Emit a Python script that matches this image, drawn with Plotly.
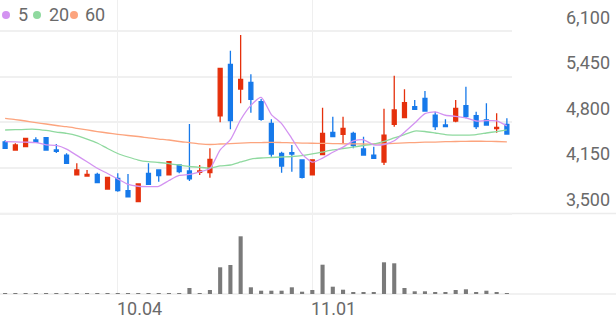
import plotly.graph_objects as go

dates = ["09.12", "09.13", "09.19", "09.20", "09.23", "09.24", "09.25", "09.26", "09.27", "09.30",
         "10.02", "10.04", "10.07", "10.08", "10.10", "10.11", "10.14", "10.15", "10.16", "10.17",
         "10.18", "10.21", "10.22", "10.23", "10.24", "10.25", "10.28", "10.29", "10.30", "10.31",
         "11.01", "11.04", "11.05", "11.06", "11.07", "11.08", "11.11", "11.12", "11.13", "11.14",
         "11.15", "11.18", "11.19", "11.20", "11.21", "11.22", "11.25", "11.26", "11.27", "11.28"]

open_ = [4520, 4405, 4452, 4547, 4580, 4405, 4333, 4049, 4034, 4058,
         3849, 4001, 3825, 3668, 4073, 4120, 4049, 4191, 4106, 4087,
         4081, 4893, 5626, 5274, 5369, 5093, 4785, 4358, 4366, 4262,
         4049, 4340, 4657, 4628, 4643, 4419, 4333, 4234, 4771, 4865,
         5022, 5141, 4903, 4761, 4818, 5036, 4893, 4832, 4708, 4771]
high = [4545, 4500, 4575, 4586, 4585, 4490, 4358, 4215, 4120, 4081,
        4020, 4073, 4063, 3925, 4215, 4125, 4240, 4195, 4775, 4191,
        4429, 5575, 5819, 6043, 5483, 5130, 4842, 4380, 4476, 4265,
        4270, 5007, 4879, 4879, 4665, 4594, 4452, 4992, 5462, 5270,
        5117, 5245, 4950, 4842, 5117, 5307, 4950, 5070, 4928, 4856]
low = [4420, 4400, 4445, 4510, 4400, 4362, 4210, 4045, 4030, 3935,
       3845, 3811, 3728, 3665, 3910, 3953, 4045, 4073, 3963, 4049,
       4010, 4799, 4700, 5070, 4936, 4820, 4309, 4081, 4096, 4000,
       4045, 4330, 4590, 4500, 4429, 4330, 4283, 4191, 4737, 4856,
       4980, 4955, 4690, 4735, 4799, 4856, 4704, 4751, 4651, 4630]
close = [4430, 4476, 4571, 4514, 4405, 4386, 4215, 4120, 4058, 3939,
         4016, 3825, 3739, 3920, 3916, 4039, 4238, 4096, 3992, 4106,
         4272, 5569, 4822, 5412, 5127, 4842, 4348, 4177, 4348, 4016,
         4265, 4643, 4594, 4714, 4466, 4333, 4286, 4618, 4975, 5079,
         4985, 4960, 4737, 4737, 4999, 4879, 4737, 4761, 4728, 4633]

ma5 = [4523, 4520, 4516, 4510, 4479, 4470, 4418, 4328, 4237, 4144,
       4070, 3992, 3915, 3888, 3883, 3888, 3970, 4042, 4056, 4094,
       4141, 4407, 4552, 4836, 5040, 5154, 4910, 4781, 4568, 4346,
       4231, 4290, 4373, 4446, 4536, 4550, 4479, 4483, 4536, 4658,
       4789, 4923, 4947, 4900, 4884, 4862, 4818, 4823, 4821, 4748]
ma20 = [4690, 4694, 4700, 4700, 4683, 4661, 4642, 4611, 4561, 4504,
        4426, 4355, 4305, 4262, 4238, 4227, 4212, 4191, 4170, 4158,
        4148, 4177, 4191, 4234, 4276, 4291, 4298, 4305, 4312, 4326,
        4348, 4376, 4405, 4426, 4447, 4469, 4490, 4526, 4576, 4625,
        4675, 4668, 4647, 4625, 4618, 4618, 4625, 4647, 4668, 4690]
ma60 = [4856, 4839, 4818, 4796, 4775, 4754, 4737, 4714, 4690, 4668,
        4647, 4628, 4611, 4597, 4578, 4561, 4547, 4526, 4511, 4493,
        4483, 4490, 4497, 4504, 4509, 4511, 4514, 4511, 4507, 4504,
        4501, 4500, 4497, 4494, 4493, 4490, 4490, 4493, 4500, 4507,
        4511, 4516, 4518, 4523, 4526, 4528, 4530, 4528, 4526, 4521]

volume = [8000, 6000, 5000, 6000, 5000, 6000, 10000, 6000, 5000, 10000,
          5000, 6000, 10000, 10000, 10000, 10000, 10000, 6000, 120000, 20000,
          80000, 534000, 580000, 1154000, 134000, 66000, 66000, 66000, 134000, 46000,
          80000, 586000, 146000, 86000, 34000, 34000, 26000, 634000, 614000, 120000,
          54000, 54000, 26000, 26000, 80000, 94000, 34000, 66000, 26000, 14000]

price_ticks = [3500, 4150, 4800, 5450, 6100]
price_tick_text = ["3,500", "4,150", "4,800", "5,450", "6,100"]
date_ticks = ["10.04", "11.01"]
legend_names = ["5", "20", "60"]

RED = "#e5300c"
BLUE = "#1679ea"
MA_COLORS = ["#d393f1", "#8fd99f", "#fca47e"]
GRID = "#f0f0f0"
TEXT = "#6a6a6a"
FONT = "Roboto"

fig = go.Figure()

fig.add_trace(go.Bar(
    x=dates, y=volume, yaxis="y2", marker_color="#7a7a7a", marker_line_width=0,
    width=0.4, showlegend=False, hoverinfo="skip"))

for vals, col in zip([ma60, ma20, ma5], MA_COLORS[::-1]):
    fig.add_trace(go.Scatter(x=dates, y=vals, mode="lines",
                             line=dict(color=col, width=1.3, shape="spline", smoothing=0.6),
                             showlegend=False, hoverinfo="skip"))

fig.add_trace(go.Candlestick(
    x=dates, open=open_, high=high, low=low, close=close,
    increasing=dict(line=dict(color=RED, width=1.3), fillcolor=RED),
    decreasing=dict(line=dict(color=BLUE, width=1.3), fillcolor=BLUE),
    whiskerwidth=0, showlegend=False))

W = 512.0
shapes = []
# separator / bottom lines extending to full width
for yv, yr in [(3500, "y"), (0, "paper")]:
    shapes.append(dict(type="line", xref="paper", yref=yr, x0=0, x1=616 / W,
                       y0=yv, y1=yv, line=dict(color="#ececec", width=1.5), layer="below"))

annotations = []
for v, t in zip(price_ticks, price_tick_text):
    annotations.append(dict(xref="paper", yref="y", x=612 / W, y=v, text=t,
                            xanchor="right", yanchor="middle", yshift=14, showarrow=False,
                            font=dict(family=FONT, size=18, color=TEXT)))
for d in date_ticks:
    annotations.append(dict(xref="x", yref="paper", x=dates.index(d), y=0, text=d,
                            xanchor="left", yanchor="top", xshift=-3, yshift=-2,
                            showarrow=False, font=dict(family=FONT, size=18, color=TEXT)))

# legend
leg_pos = [(6, 16), (37, 47), (74, 83)]
for (cx, tx), name, col in zip(leg_pos, legend_names, MA_COLORS):
    shapes.append(dict(type="circle", xref="paper", yref="paper", xsizemode="pixel",
                       ysizemode="pixel", xanchor=cx / W, yanchor=1 - 15 / 294.0,
                       x0=-4, x1=4, y0=-4, y1=4, fillcolor=col, line=dict(width=0)))
    annotations.append(dict(xref="paper", yref="paper", x=tx / W, y=1 - 15 / 294.0, text=name,
                            xanchor="left", yanchor="middle", showarrow=False,
                            font=dict(family=FONT, size=18, color=TEXT)))

fig.update_layout(
    width=616, height=321,
    margin=dict(l=0, r=104, t=0, b=27),
    paper_bgcolor="white", plot_bgcolor="white",
    showlegend=False, boxgap=0.45,
    xaxis=dict(type="category", range=[-0.5, 49.5], rangeslider=dict(visible=False),
               showgrid=True, gridcolor="#efefef", gridwidth=1, tickvals=date_ticks,
               showticklabels=False, ticks="", showline=False, zeroline=False, fixedrange=True),
    yaxis=dict(range=[2353, 6542], tickvals=price_ticks, showticklabels=False,
               showgrid=True, gridcolor=GRID, gridwidth=1.5, zeroline=False, showline=False,
               ticks=""),
    yaxis2=dict(range=[0, 5880000], overlaying="y", visible=False, showgrid=False),
    shapes=shapes, annotations=annotations,
)

fig.write_html("out.html")
